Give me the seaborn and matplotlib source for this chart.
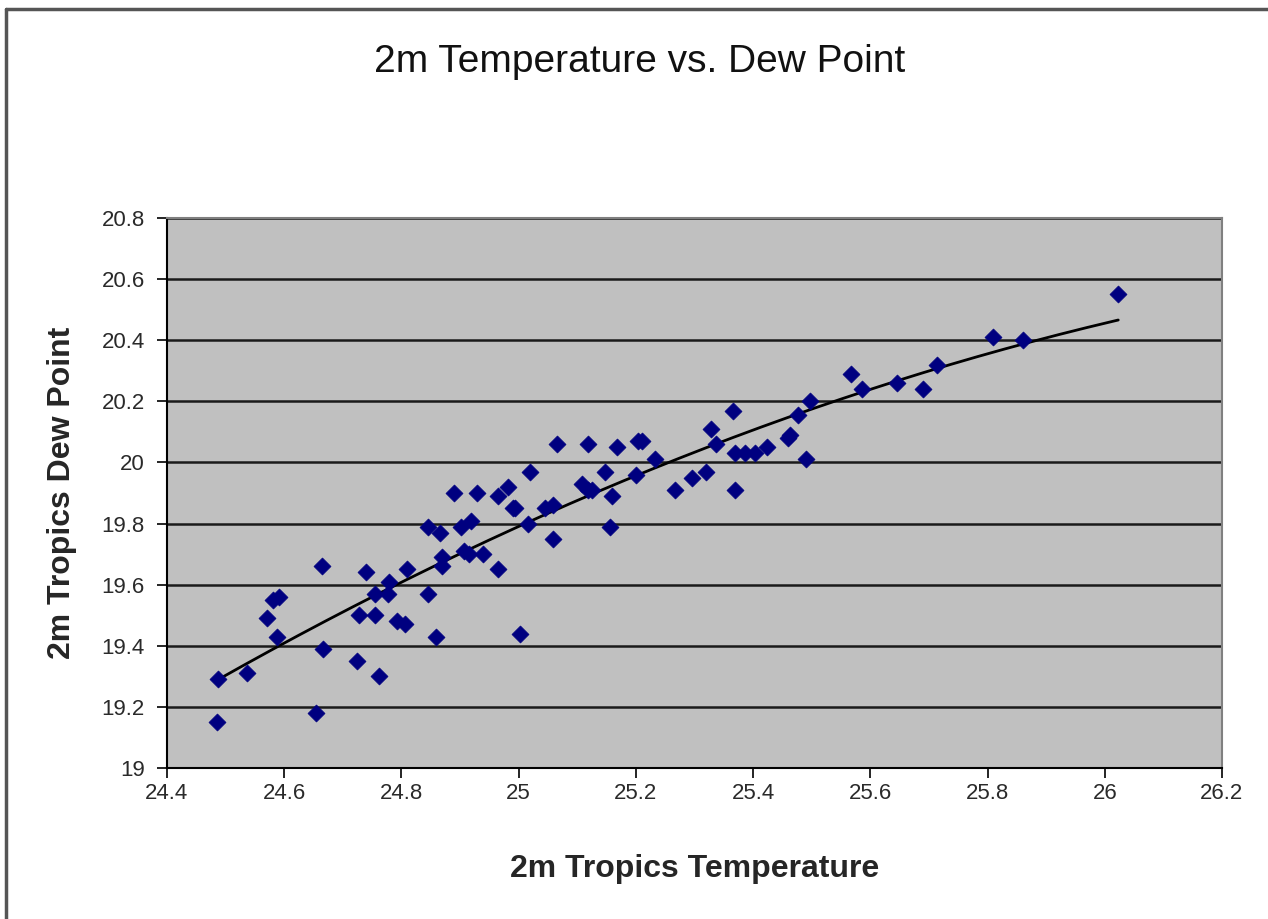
import numpy as np
import pandas as pd
import matplotlib
matplotlib.use("Agg")
import matplotlib.pyplot as plt
from matplotlib.lines import Line2D
import seaborn as sns

# 2m temperature (x) and dew point (y) over the tropics
temperature = [
    24.485, 24.487, 24.537, 24.570, 24.581, 24.591, 24.587, 24.654, 24.664, 24.667,
    24.725, 24.728, 24.739, 24.755, 24.755, 24.761, 24.779, 24.777, 24.792, 24.806,
    24.809, 24.846, 24.859, 24.846, 24.865, 24.869, 24.869, 24.889, 24.901, 24.919,
    24.907, 24.916, 24.939, 24.929, 24.965, 24.965, 24.982, 24.990, 24.994, 25.002,
    25.019, 25.016, 25.045, 25.059, 25.059, 25.065, 25.108, 25.119, 25.125, 25.119,
    25.147, 25.160, 25.156, 25.167, 25.204, 25.210, 25.201, 25.233, 25.266, 25.295,
    25.319, 25.329, 25.337, 25.366, 25.369, 25.369, 25.386, 25.403, 25.423, 25.460,
    25.463, 25.477, 25.490, 25.497, 25.567, 25.585, 25.645, 25.690, 25.714, 25.809,
    25.861, 26.023,
]
dew_point = [
    19.15, 19.29, 19.31, 19.49, 19.55, 19.56, 19.43, 19.18, 19.66, 19.39,
    19.35, 19.50, 19.64, 19.57, 19.50, 19.30, 19.61, 19.57, 19.48, 19.47,
    19.65, 19.57, 19.43, 19.79, 19.77, 19.69, 19.66, 19.90, 19.79, 19.81,
    19.71, 19.70, 19.70, 19.90, 19.65, 19.89, 19.92, 19.85, 19.85, 19.44,
    19.97, 19.80, 19.85, 19.86, 19.75, 20.06, 19.93, 19.91, 19.91, 20.06,
    19.97, 19.89, 19.79, 20.05, 20.07, 20.07, 19.96, 20.01, 19.91, 19.95,
    19.97, 20.11, 20.06, 20.17, 20.03, 19.91, 20.03, 20.03, 20.05, 20.08,
    20.09, 20.155, 20.01, 20.20, 20.29, 20.24, 20.26, 20.24, 20.32, 20.41,
    20.40, 20.55,
]

x_ticks = [24.4, 24.6, 24.8, 25.0, 25.2, 25.4, 25.6, 25.8, 26.0, 26.2]
x_tick_labels = ["24.4", "24.6", "24.8", "25", "25.2", "25.4", "25.6", "25.8", "26", "26.2"]
y_ticks = [19.0, 19.2, 19.4, 19.6, 19.8, 20.0, 20.2, 20.4, 20.6, 20.8]
y_tick_labels = ["19", "19.2", "19.4", "19.6", "19.8", "20", "20.2", "20.4", "20.6", "20.8"]

df = pd.DataFrame({"temp": temperature, "dew": dew_point})

# second-order polynomial trendline
coef = np.polyfit(df["temp"], df["dew"], 2)
xs = np.linspace(df["temp"].min(), df["temp"].max(), 200)
trend = pd.DataFrame({"temp": xs, "dew": np.polyval(coef, xs)})

sns.set_style("white")
plt.rcParams["font.family"] = ["Liberation Sans", "DejaVu Sans"]

fig = plt.figure(figsize=(12.68, 9.19), dpi=100)
ax = fig.add_axes([167 / 1268, 1 - 768 / 919, (1222 - 167) / 1268, (768 - 218) / 919])
ax.set_facecolor("#c0c0c0")

for yv in y_ticks[1:]:
    ax.axhline(yv, color="#1a1a1a", lw=1.8, zorder=1)

sns.lineplot(data=trend, x="temp", y="dew", ax=ax, color="black", lw=2.0, zorder=2)
sns.scatterplot(data=df, x="temp", y="dew", ax=ax, marker="D", s=75,
                color="#000080", edgecolor="#000080", linewidth=0.5, zorder=3)

ax.set_xlim(24.4, 26.2)
ax.set_ylim(19.0, 20.8)
ax.set_xticks(x_ticks)
ax.set_xticklabels(x_tick_labels)
ax.set_yticks(y_ticks)
ax.set_yticklabels(y_tick_labels)
ax.tick_params(axis="both", which="major", direction="out", length=7, width=1.2,
               color="black", labelsize=16, labelcolor="#2a2a2a",
               bottom=True, left=True)
ax.tick_params(axis="x", pad=4)
ax.tick_params(axis="y", pad=9)

for side in ["left", "bottom"]:
    ax.spines[side].set_color("black")
    ax.spines[side].set_linewidth(1.5)
for side in ["top", "right"]:
    ax.spines[side].set_color("#808080")
    ax.spines[side].set_linewidth(1.5)

ax.set_xlabel("2m Tropics Temperature", fontsize=23, fontweight="bold", labelpad=36)
ax.set_ylabel("2m Tropics Dew Point", fontsize=23, fontweight="bold", labelpad=18)

fig.text(640 / 1268, 1 - 62 / 919, "2m Temperature vs. Dew Point",
         ha="center", va="center", fontsize=28, color="#111111")

# chart-area frame
fig.add_artist(Line2D([6 / 1268, 1.0], [1 - 9 / 919, 1 - 9 / 919],
                      transform=fig.transFigure, color="#555555", lw=2.5))
fig.add_artist(Line2D([6 / 1268, 6 / 1268], [0.0, 1 - 9 / 919],
                      transform=fig.transFigure, color="#555555", lw=2.5))

fig.savefig("out.png", dpi=100, facecolor="white")
